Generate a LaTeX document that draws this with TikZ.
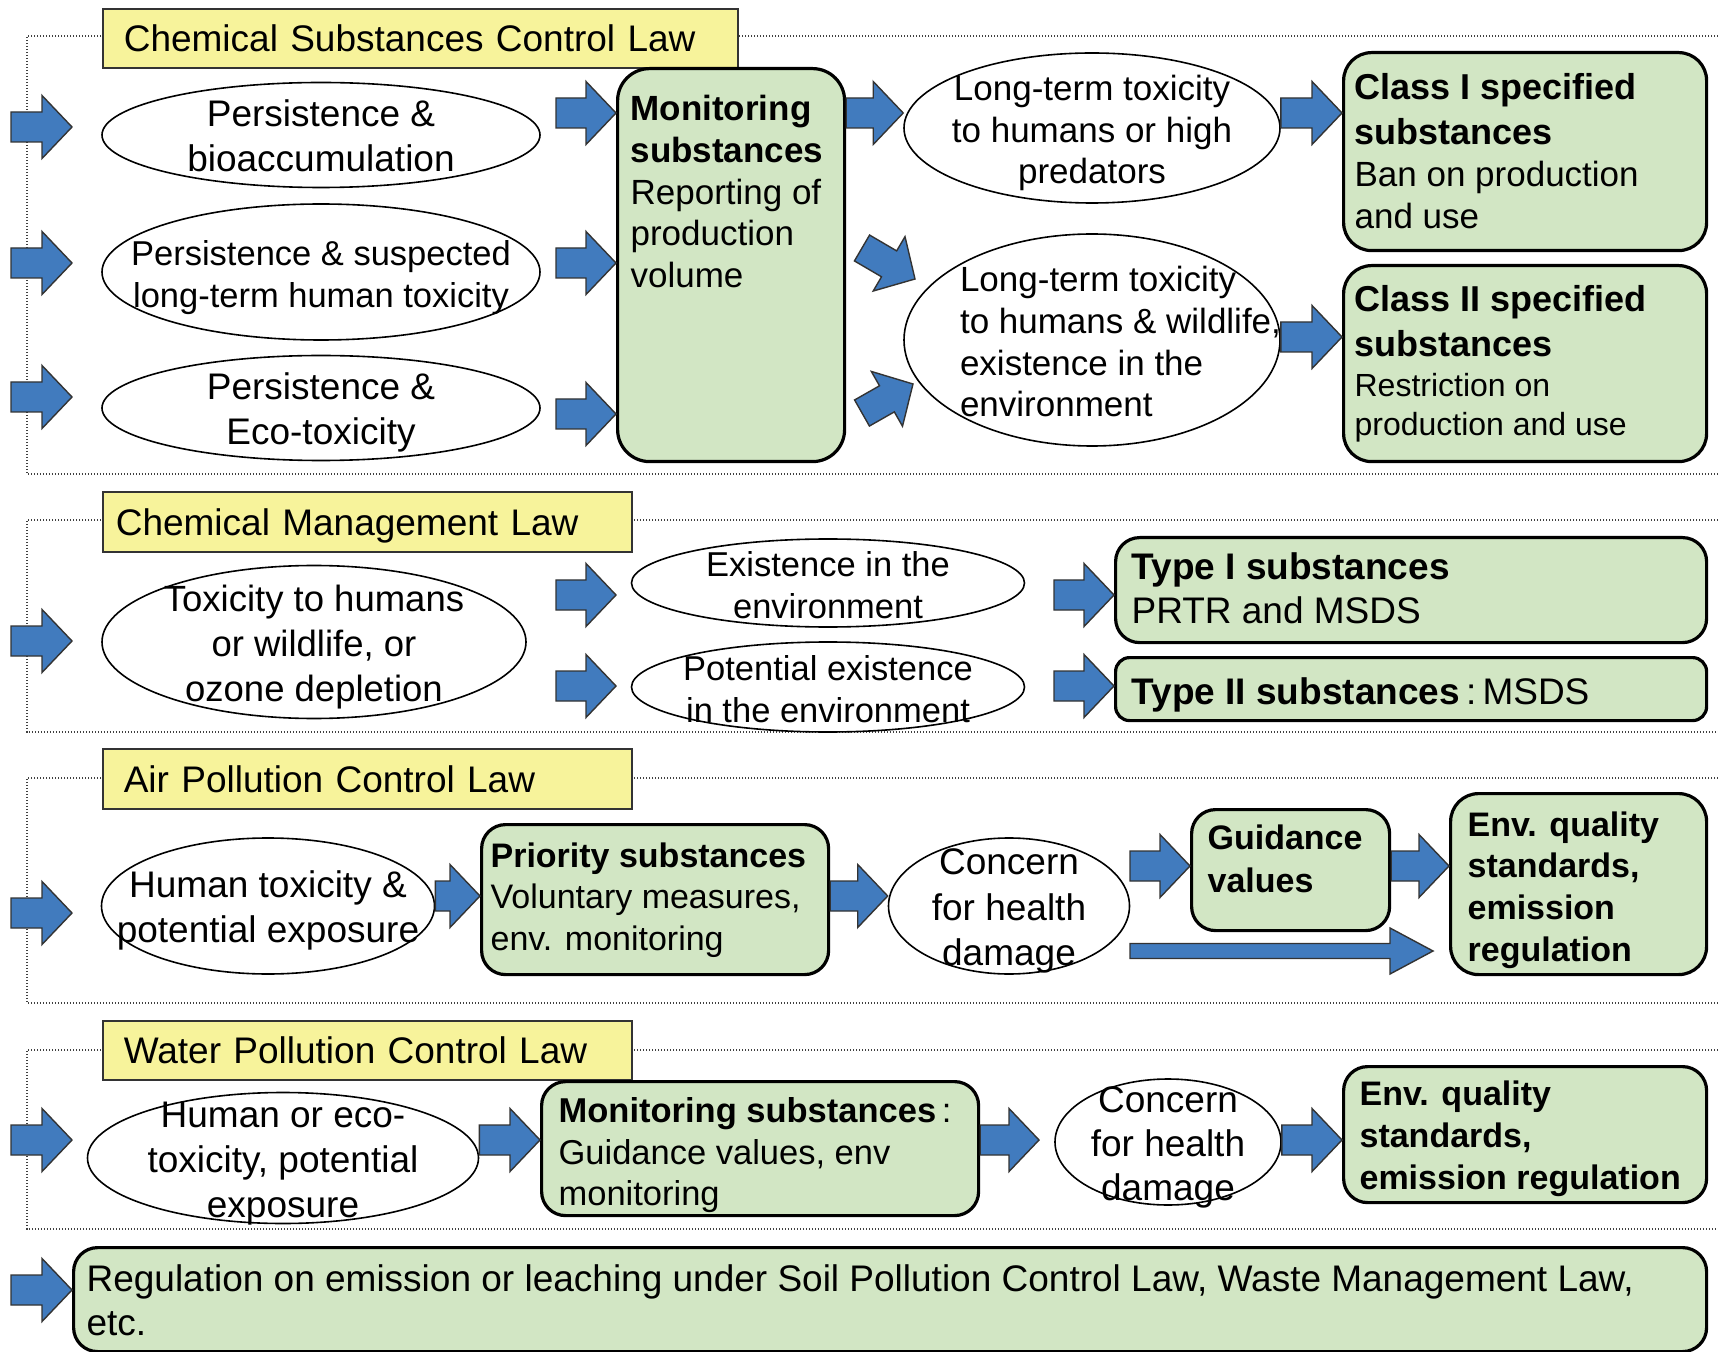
\documentclass[tikz,border=0pt]{standalone}
\usepackage{fontspec}
\setmainfont{Liberation Sans}
\usetikzlibrary{shapes.geometric,calc}
\definecolor{ablue}{RGB}{65,123,190}
\definecolor{gfill}{RGB}{210,230,196}
\definecolor{yfill}{RGB}{247,243,155}
\newcommand\fsz[2]{\fontsize{#1pt}{#2pt}\selectfont}
\newcommand\Tstr{\rule{0pt}{19pt}}
% radius, name, x, y, width(pt), height(pt), padx(pt), pady(pt), text
\newcommand\GB[9][12]{%
  \node[gbox, rounded corners=#1pt, inner xsep=#7pt, inner ysep=#8pt] (#2) at (#3,#4)
  {\parbox[c][\dimexpr #6pt-#8pt-#8pt\relax][t]{\dimexpr #5pt-#7pt-#7pt\relax}{\raggedright #9}};}
\tikzset{
  blockarrow/.style n args={3}{fill=ablue, draw=black!80, line width=0.7pt, line join=miter,
    to path={let \p1=(\tikztostart), \p2=(\tikztotarget),
      \n1={atan2(\y2-\y1,\x2-\x1)}, \n2={veclen(\x2-\x1,\y2-\y1)} in
      ($(\p1)+({\n1+90}:#1)$)
      -- ($(\p1)+({\n1}:{\n2-#3})+({\n1+90}:#1)$)
      -- ($(\p1)+({\n1}:{\n2-#3})+({\n1+90}:#2)$)
      -- (\p2)
      -- ($(\p1)+({\n1}:{\n2-#3})+({\n1-90}:#2)$)
      -- ($(\p1)+({\n1}:{\n2-#3})+({\n1-90}:#1)$)
      -- ($(\p1)+({\n1-90}:#1)$) -- cycle}},
  barrow/.style={blockarrow={7.5pt}{15.75pt}{15pt}},
  larrow/.style={blockarrow={3.75pt}{11.5pt}{21.5pt}},
  frame/.style={draw=black!75, line width=0.6pt, dash pattern=on 0.6pt off 0.9pt},
  ttl/.style={draw=black!80, line width=0.8pt, fill=yfill, anchor=north west, inner ysep=0pt, align=left,
    font=\fsz{18.5}{22}, text depth=0pt},
  gbox/.style={draw=black, line width=1.6pt, fill=gfill, anchor=north west},
  ell/.style={ellipse, draw=black, line width=0.8pt, fill=white, inner xsep=-300pt, inner ysep=-300pt, align=center,
    execute at end node={\rule[-4.6pt]{0pt}{0pt}}}
}
\begin{document}
\begin{tikzpicture}[x=0.5pt,y=-0.5pt]
\useasboundingbox (0,0) rectangle (1718,1352);
\fill[white] (0,0) rectangle (1718,1352);

% dotted frames
\draw[frame] (1718,36) -- (27,36) -- (27,474) -- (1718,474);
\draw[frame] (1718,520) -- (27,520) -- (27,732) -- (1718,732);
\draw[frame] (1718,778) -- (27,778) -- (27,1003) -- (1718,1003);
\draw[frame] (1718,1050) -- (27,1050) -- (27,1229) -- (1718,1229);

% titles
\node[ttl, text width=296.5pt, inner xsep=10.5pt, minimum height=29.5pt] (y1) at (102,8) {Chemical Substances Control Law};
\node[ttl, text width=251.5pt, inner xsep=6.5pt, minimum height=30pt] (y2) at (102,491) {Chemical Management Law};
\node[ttl, text width=243.5pt, inner xsep=10.5pt, minimum height=30pt] (y3) at (102,748) {Air Pollution Control Law};
\node[ttl, text width=243.5pt, inner xsep=10.5pt, minimum height=29.5pt] (y4) at (102,1020) {Water Pollution Control Law};

% ---------- section 1 ----------
\node[ell, minimum width=219pt, minimum height=52.5pt, font=\fsz{18.5}{22.5}] (e1) at (321,135) {\Tstr Persistence \&\\bioaccumulation};
\node[ell, minimum width=219pt, minimum height=68pt, font=\fsz{17.25}{21}] (e2) at (321,272) {\Tstr Persistence \& suspected\\long-term human toxicity};
\node[ell, minimum width=219pt, minimum height=52.5pt, font=\fsz{18.5}{22.5}] (e3) at (321,408) {\Tstr Persistence \&\\Eco-toxicity};
\GB[16]{m1}{616}{67}{113.5}{196.5}{6.5}{13.5}{\fsz{17.5}{20.8}\textbf{Monitoring\\substances}\\Reporting of\\production\\volume\par}
\node[ell, minimum width=188pt, minimum height=75pt, font=\fsz{17.5}{20.8}] (e4) at (1092,128) {\Tstr Long-term toxicity\\to humans or high\\predators};
\node[ell, minimum width=188pt, minimum height=106pt, font=\fsz{17.5}{20.8}, align=left] (e5) at (1092,340)
  {\Tstr\hspace*{28.5pt}Long-term toxicity\\\hspace*{28.5pt}to humans \& wildlife,\\\hspace*{28.5pt}existence in the\\\hspace*{28.5pt}environment};
\GB[14]{C1}{1342}{51}{181.5}{99}{5.5}{10.5}{{\fsz{18}{22.5}\bfseries Class I specified\\substances\par}{\fsz{17.5}{21}Ban on production\\and use\par}}
\GB[14]{C2}{1342}{264}{181.5}{98}{5.5}{10}{{\fsz{18}{22.5}\bfseries Class II specified\\substances\par}{\fsz{16}{19.75}Restriction on\\production and use\par}}

\coordinate (i1) at (11,127); \coordinate (i1t) at (72,127);
\coordinate (i2) at (11,263); \coordinate (i2t) at (72,263);
\coordinate (i3) at (11,397); \coordinate (i3t) at (72,397);
\draw[barrow] (i1) to (i1t);
\draw[barrow] (i2) to (i2t);
\draw[barrow] (i3) to (i3t);
\coordinate (j1) at (556,113); \coordinate (j2) at (556,263); \coordinate (j3) at (556,414);
\draw[barrow] (j1) to (j1 -| m1.west);
\draw[barrow] (j2) to (j2 -| m1.west);
\draw[barrow] (j3) to (j3 -| m1.west);
\draw[barrow] (m1.east |- j1) to (e4.west |- j1);
\coordinate (d1) at (862,248); \coordinate (d1t) at (915,279);
\coordinate (d2) at (862,413); \coordinate (d2t) at (913,384);
\draw[barrow] (d1) to (d1t);
\draw[barrow] (d2) to (d2t);
\draw[barrow] (e4.east |- j1) to (C1.west |- j1);
\coordinate (k1) at (1280,337);
\draw[barrow] (e5.east |- k1) to (C2.west |- k1);

% ---------- section 2 ----------
\node[ell, minimum width=212pt, minimum height=76.5pt, font=\fsz{18.25}{22.5}] (e6) at (314,642) {\Tstr Toxicity to humans\\or wildlife, or\\ozone depletion};
\node[ell, minimum width=196.5pt, minimum height=44pt, font=\fsz{17.25}{21}] (e7) at (828,583) {\Tstr Existence in the\\environment};
\node[ell, minimum width=196.5pt, minimum height=45pt, font=\fsz{17.25}{21}] (e8) at (828,687) {\Tstr Potential existence\\in the environment};
\GB{T1}{1114}{536}{295.5}{52.5}{8}{7.5}{\fsz{18.5}{22}\textbf{Type I substances}\\PRTR and MSDS\par}
\GB[7]{T2}{1114}{656}{295.5}{31.5}{8}{10}{\fsz{18.5}{22}\textbf{Type II substances}\,:\,MSDS\par}

\coordinate (i4) at (11,641); \coordinate (i4t) at (72,641);
\draw[barrow] (i4) to (i4t);
\coordinate (j4) at (556,595); \coordinate (j4t) at (616,595);
\coordinate (j5) at (556,686); \coordinate (j5t) at (616,686);
\draw[barrow] (j4) to (j4t);
\draw[barrow] (j5) to (j5t);
\coordinate (k2) at (1054,595); \coordinate (k3) at (1054,686);
\draw[barrow] (k2) to (k2 -| T1.west);
\draw[barrow] (k3) to (k3 -| T2.west);

% ---------- section 3 ----------
\node[ell, minimum width=166.5pt, minimum height=68pt, font=\fsz{18.5}{22.5}] (e9) at (268,906) {\Tstr Human toxicity \&\\potential exposure};
\GB{P}{480}{823}{173.5}{75}{4.5}{9}{\fsz{17}{20.8}\textbf{Priority substances}\\Voluntary measures,\\env. monitoring\par}
\node[ell, minimum width=120.5pt, minimum height=68pt, font=\fsz{18.5}{22.75}] (e10) at (1009,906) {\Tstr Concern\\for health\\damage};
\GB{G}{1190}{808}{99}{60.5}{8}{7.5}{\fsz{17}{21.4}\bfseries Guidance\\values\par}
\GB[14]{EA}{1449}{792}{128}{90.5}{8.5}{9}{\fsz{17}{20.8}\bfseries Env. quality\\standards,\\emission\\regulation\par}

\coordinate (i5) at (11,913); \coordinate (i5t) at (72,913);
\draw[barrow] (i5) to (i5t);
\coordinate (l1) at (435,896);
\draw[barrow] (e9.east |- l1) to (P.west |- l1);
\draw[barrow] (P.east |- l1) to (e10.west |- l1);
\coordinate (l2) at (1130,866);
\draw[barrow] (l2) to (l2 -| G.west);
\draw[barrow] (G.east |- l2) to (EA.west |- l2);
\coordinate (l3) at (1130,951); \coordinate (l3t) at (1433,951);
\draw[larrow] (l3) to (l3t);

% ---------- section 4 ----------
\node[ell, minimum width=195.5pt, minimum height=65.5pt, font=\fsz{18.5}{22.5}] (e11) at (283,1158) {\Tstr Human or eco-\\toxicity, potential\\exposure};
\GB{W}{540}{1080}{218.5}{67}{8.5}{8}{\fsz{17.25}{20.8}\textbf{Monitoring substances}\,:\\Guidance values, env\\monitoring\par}
\node[ell, minimum width=113pt, minimum height=63pt, font=\fsz{18.5}{22}] (e12) at (1168,1142) {\Tstr Concern\\for health\\damage};
\GB{WE}{1342}{1065}{181.5}{68}{8}{7}{\fsz{17}{21}\bfseries Env. quality\\standards,\\emission regulation\par}

\coordinate (i6) at (11,1140); \coordinate (i6t) at (72,1140);
\draw[barrow] (i6) to (i6t);
\coordinate (w1) at (480,1140); \coordinate (w2t) at (1039,1140);
\draw[barrow] (e11.east |- w1) to (W.west |- w1);
\draw[barrow] (W.east |- w1) to (w2t);
\draw[barrow] (e12.east |- w1) to (WE.west |- w1);

% ---------- bottom ----------
\GB{B}{72}{1246}{816.5}{52}{6.5}{8.5}{\fsz{18.5}{22}Regulation on emission or leaching under Soil Pollution Control Law, Waste Management Law,\\etc.\par}
\coordinate (i7) at (11,1290);
\draw[barrow] (i7) to (i7 -| B.west);
\end{tikzpicture}
\end{document}
